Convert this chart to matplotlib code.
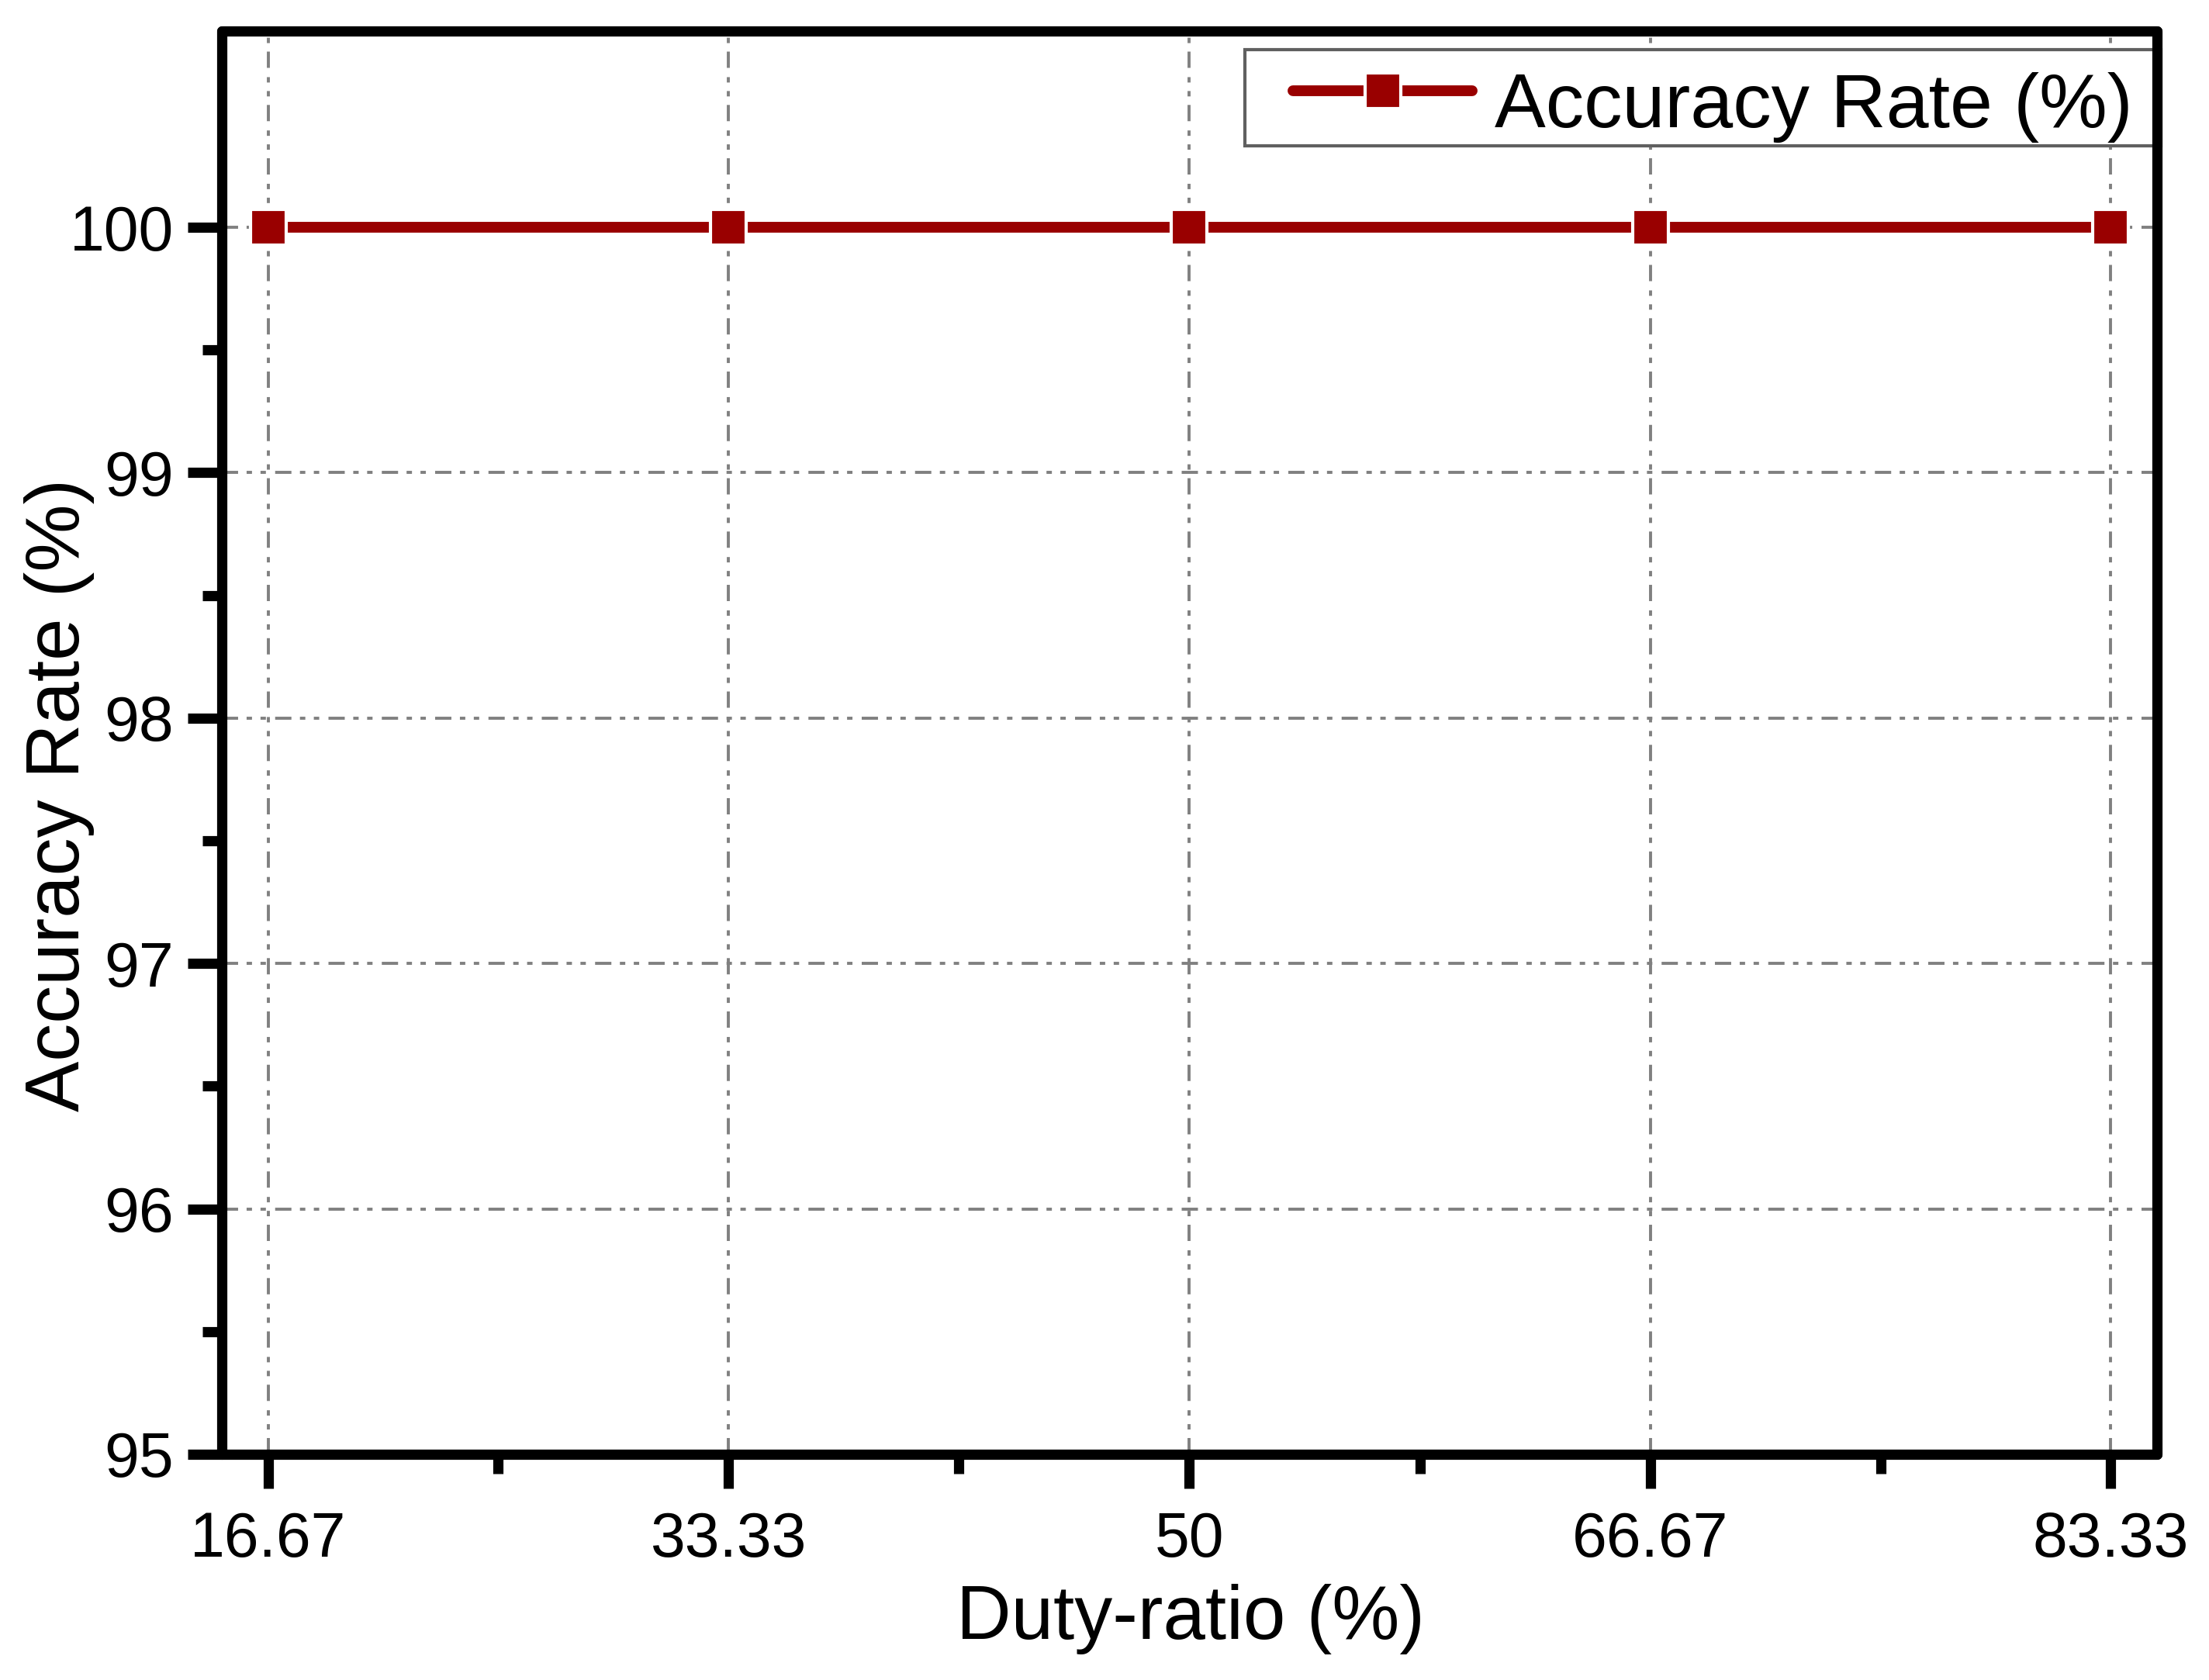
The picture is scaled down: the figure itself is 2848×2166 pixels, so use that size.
import matplotlib
matplotlib.use("Agg")
import matplotlib.pyplot as plt
from matplotlib.ticker import FixedLocator
from matplotlib.legend_handler import HandlerLine2D
import numpy as np

plt.rcParams['lines.scale_dashes'] = False
plt.rcParams['font.family'] = ['Liberation Sans', 'DejaVu Sans']

# ---- data ----
duty_ratio = [16.67, 33.33, 50.0, 66.67, 83.33]
duty_labels = ["16.67", "33.33", "50", "66.67", "83.33"]
accuracy = [100, 100, 100, 100, 100]
y_ticks = [95, 96, 97, 98, 99, 100]
y_labels = ["95", "96", "97", "98", "99", "100"]
series_name = "Accuracy Rate (%)"
x_title = "Duty-ratio (%)"
y_title = "Accuracy Rate (%)"

RED = "#990000"

fig = plt.figure(figsize=(28.48, 21.66), dpi=100)
ax = fig.add_axes([0.10042, 0.13435, 0.97647 - 0.10042, 0.98153 - 0.13435])

ax.grid(which='major', color='#808080', lw=2.8,
        linestyle=(0, (15.1, 7.9, 5.0, 7.9, 5.0, 8.6)), zorder=1)
ax.set_axisbelow(True)

line, = ax.plot(duty_ratio, accuracy, color=RED, lw=10, marker='s',
                markersize=32.5, markerfacecolor=RED, markeredgecolor='white',
                markeredgewidth=3, solid_capstyle='round', label=series_name,
                zorder=3, clip_on=False)

ax.set_xlim(15, 85)
ax.set_ylim(95, 100.8)

x = np.array(duty_ratio)
ax.xaxis.set_major_locator(FixedLocator(duty_ratio))
ax.set_xticklabels(duty_labels)
ax.xaxis.set_minor_locator(FixedLocator(list((x[:-1] + x[1:]) / 2)))
yt = np.array(y_ticks, dtype=float)
ax.yaxis.set_major_locator(FixedLocator(y_ticks))
ax.set_yticklabels(y_labels)
ax.yaxis.set_minor_locator(FixedLocator(list((yt[:-1] + yt[1:]) / 2)))

ax.tick_params(which='both', direction='out', width=9.5, color='black',
               top=False, right=False, labelsize=58)
ax.tick_params(which='major', length=31.7)
ax.tick_params(which='minor', length=18)
ax.tick_params(axis='x', which='major', pad=21)
ax.tick_params(axis='y', which='major', pad=13)

for s in ax.spines.values():
    s.set_linewidth(9.5)
    s.set_capstyle('round')
    s.set_joinstyle('round')

ax.set_xlabel(x_title, fontsize=70.5)
ax.xaxis.label.set_va('baseline')
ax.xaxis.set_label_coords(0.5005, -0.1297)
ax.set_ylabel(y_title, fontsize=70.5)
ax.yaxis.label.set_va('baseline')
ax.yaxis.set_label_coords(-0.0737, 0.4632)

leg = ax.legend(handles=[line], loc='upper left',
                bbox_to_anchor=(0.5287, 0.9869, 1 - 0.5287 + 0.002, 0),
                mode='expand', fontsize=71, borderpad=0.165, borderaxespad=0,
                handlelength=2.81, handletextpad=0.29,
                handler_map={line: HandlerLine2D(numpoints=1, xpad=0.465)},
                frameon=True, fancybox=False, framealpha=1, edgecolor='#606060')
leg.get_frame().set_linewidth(3)
leg.set_zorder(2)
# Origin places the legend text slightly low inside its frame
leg.get_texts()[0].set_y(-13)

fig.savefig("out.png", dpi=100)
